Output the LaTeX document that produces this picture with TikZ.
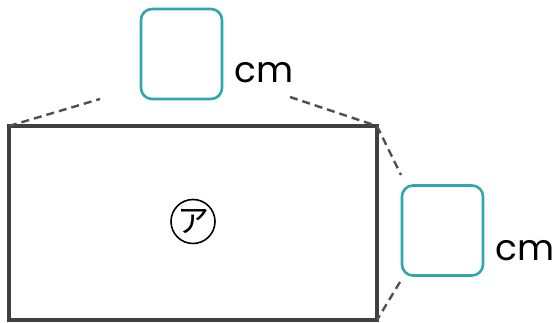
\documentclass[tikz,border=0pt]{standalone}
\usepackage{fontspec}
\setmainfont{Poppins}
\newfontfamily\jpfont{Noto Sans CJK JP}
\definecolor{teal1}{HTML}{2EA8AE}
\definecolor{edge}{HTML}{404040}
\definecolor{dash}{HTML}{505050}
\begin{document}
\begin{tikzpicture}[x=1pt,y=1pt,
  ansbox/.style={draw=teal1,line width=2.6pt,rounded corners=11pt,minimum width=81pt,minimum height=90pt,inner sep=0pt},
  unit/.style={font=\fontsize{36}{36}\selectfont,inner sep=0pt,anchor=west},
  guide/.style={draw=dash,line width=2.4pt,dash pattern=on 8pt off 5pt}]
\useasboundingbox (0,0) rectangle (554,323);
% rectangle corners
\coordinate (tl) at (9,197);
\coordinate (tr) at (377,197);
\coordinate (br) at (377,3);
\coordinate (bl) at (9,3);
\draw[edge,line width=3.6pt,line join=miter] (tl) -- (tr) -- (br) -- (bl) -- cycle;
% answer boxes
\node[ansbox] (top) at (181.5,269) {};
\node[ansbox] (right) at (442.5,092.5) {};
\node[unit] (cm1) at (234,250) {cm};
\node[unit] (cm2) at (495,72) {cm};
% guide lines
\coordinate (t1) at (100,224);
\coordinate (t2) at (290,226);
\coordinate (r1) at (401,148);
\coordinate (r2) at (400,41);
\draw[guide] (tl) -- (t1);
\draw[guide] (t2) -- (tr);
\draw[guide] (tr) -- (r1);
\draw[guide] (r2) -- (br);
% label
\node[draw,circle,line width=1.6pt,minimum size=44pt,inner sep=0pt,font=\jpfont\fontsize{32}{32}\selectfont] (lab) at (193,101.5) {ア};
\end{tikzpicture}
\end{document}
